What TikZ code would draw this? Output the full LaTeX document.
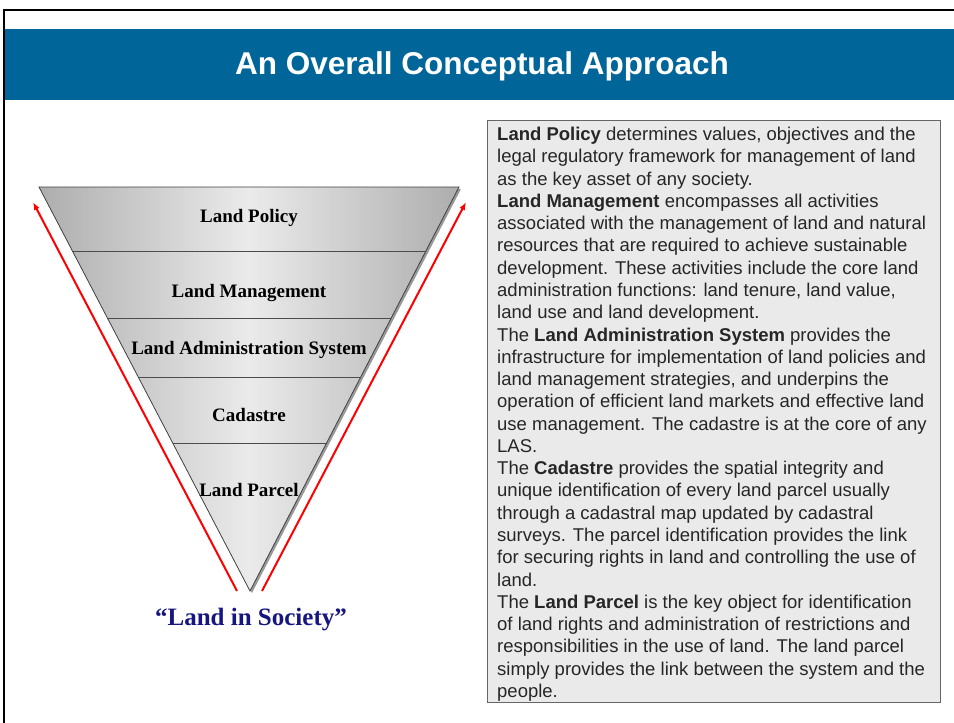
\documentclass[tikz,border=0pt]{standalone}
\usepackage{fontspec}
\setmainfont{Liberation Sans}
\newfontfamily\timesfont{Liberation Serif}
\usetikzlibrary{arrows.meta}
\definecolor{cus-banner}{RGB}{0,101,153}
\definecolor{cus-navy}{RGB}{22,22,128}
\definecolor{cus-paper}{RGB}{234,234,234}

\begin{document}
\begin{tikzpicture}[x=1pt,y=-1pt,
  layer/.style={font=\timesfont\bfseries\fontsize{19}{21}\selectfont, inner sep=0pt},
  band/.style={draw=black!70, line width=.8pt},
  rise/.style={draw=red, line width=2pt, -{Latex[length=8pt,width=6pt]}}]
\useasboundingbox (0,0) rectangle (954,723);
% slide frame and title bar
\draw [line width=2.5pt] (4,723) -- (4,10) -- (954,10);
\fill [cus-banner] (5,29) rectangle (954,100);
\node (title) [text=white, font=\bfseries\fontsize{31.5}{34}\selectfont] at (482,66) {An Overall Conceptual Approach};

% the funnel
\fill [black!40] (41,189) -- (461,189) -- (252,593) -- cycle;
\begin{scope}
  \clip (39,187) -- (459,187) -- (250,591) -- cycle;
  \shade [left color=black!32, right color=black!32, middle color=black!8] (39,187) rectangle (459,591);
  \foreach \y in {251,318,377,443}
    \draw [band] (0,\y) -- (954,\y);
\end{scope}
\draw [black!75, line width=.8pt] (39,187) -- (459,187) -- (250,591) -- cycle;

\node (policy) [layer] at (249,218) {Land Policy};
\node (manage) [layer] at (249,293) {Land Management};
\node (las) [layer] at (249,350) {Land Administration System};
\node (cadastre) [layer] at (249,415) {Cadastre};
\node (parcel) [layer] at (249,490) {Land Parcel};

% arrows along the sides
\coordinate (lbot) at (237,591);
\coordinate (ltop) at (33,202);
\coordinate (rbot) at (262,591);
\coordinate (rtop) at (466,202);
\draw [rise] (lbot) -- (ltop);
\draw [rise] (rbot) -- (rtop);

\node (society) [text=cus-navy, font=\timesfont\bfseries\fontsize{25}{27}\selectfont] at (251,620) {“Land in Society”};

% explanation box
\draw [fill=cus-paper, draw=black!60, line width=.8pt] (487,120) rectangle (940,702);
\node (notes) [anchor=north west, inner sep=0pt, align=left, text=black!85,
  font=\fontsize{18.5}{22.27}\selectfont] at (497,127) {%
\textbf{Land Policy} determines values, objectives and the\\
legal regulatory framework for management of land\\
as the key asset of any society.\\
\textbf{Land Management} encompasses all activities\\
associated with the management of land and natural\\
resources that are required to achieve sustainable\\
development. These activities include the core land\\
administration functions: land tenure, land value,\\
land use and land development.\\
The \textbf{Land Administration System} provides the\\
infrastructure for implementation of land policies and\\
land management strategies, and underpins the\\
operation of efficient land markets and effective land\\
use management. The cadastre is at the core of any\\
LAS.\\
The \textbf{Cadastre} provides the spatial integrity and\\
unique identification of every land parcel usually\\
through a cadastral map updated by cadastral\\
surveys. The parcel identification provides the link\\
for securing rights in land and controlling the use of\\
land.\\
The \textbf{Land Parcel} is the key object for identification\\
of land rights and administration of restrictions and\\
responsibilities in the use of land. The land parcel\\
simply provides the link between the system and the\\
people.};
\end{tikzpicture}
\end{document}
